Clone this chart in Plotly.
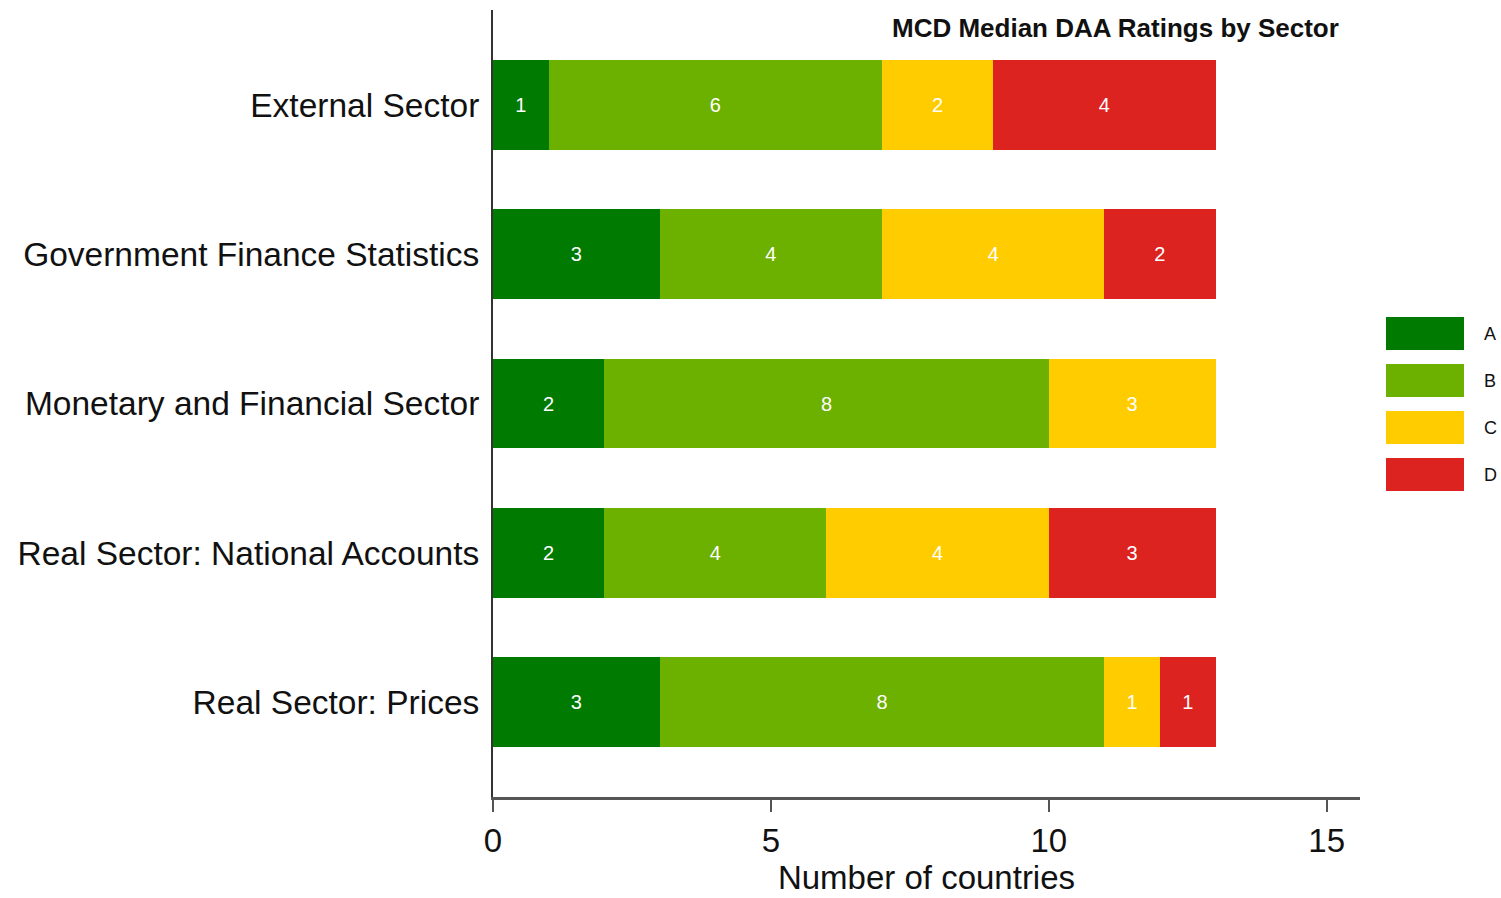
import plotly.graph_objects as go

sectors = ["External Sector", "Government Finance Statistics", "Monetary and Financial Sector",
           "Real Sector: National Accounts", "Real Sector: Prices"]
ratings = ["A", "B", "C", "D"]
values = {
    "A": [1, 3, 2, 2, 3],
    "B": [6, 4, 8, 4, 8],
    "C": [2, 4, 3, 4, 1],
    "D": [4, 2, 0, 3, 1],
}
colors = {"A": "#007A00", "B": "#6CB000", "C": "#FFCC00", "D": "#DD231F"}
x_ticks = [0, 5, 10, 15]

W, H = 1501, 898
L, R, T, B = 493, 141, 10, 101
pw, ph = W - L - R, H - T - B

def px2x(px):
    return (px - L) / pw

def py2y(py):
    return (H - B - py) / ph

fig = go.Figure()
for r in ratings:
    vals = values[r]
    fig.add_trace(go.Bar(
        y=sectors, x=vals, orientation="h", name=r,
        marker=dict(color=colors[r], line=dict(width=0)),
        text=[str(v) if v else "" for v in vals],
        textposition="inside", insidetextanchor="middle",
        textfont=dict(color="white", size=20, family="Liberation Sans"),
        width=0.6, showlegend=False,
    ))

fig.update_layout(
    barmode="stack",
    width=W, height=H,
    margin=dict(l=L, r=R, t=T, b=B, autoexpand=False),
    plot_bgcolor="white", paper_bgcolor="white",
    font=dict(family="Liberation Sans", color="#111111"),
    xaxis=dict(range=[0, 15.6], tickvals=x_ticks, showgrid=False, zeroline=False,
               showline=True, linecolor="#555555", linewidth=3,
               ticks="outside", ticklen=12, tickwidth=2, tickcolor="#555555",
               tickfont=dict(size=33, color="#111111"),
               title=dict(text="Number of countries", font=dict(size=33, color="#111111"), standoff=2)),
    yaxis=dict(type="category", categoryorder="array", categoryarray=sectors,
               range=[4.636, -0.636], showgrid=False, zeroline=False,
               showline=True, linecolor="#333333", linewidth=2, ticks="",
               ticklabelstandoff=5,
               tickfont=dict(size=33.5, color="#111111")),
    uniformtext=dict(mode=False),
)

fig.add_annotation(text="<b>MCD Median DAA Ratings by Sector</b>", xref="paper", yref="paper",
                   x=px2x(1341), y=py2y(28), xanchor="right", yanchor="middle",
                   showarrow=False, font=dict(size=26, color="#111111", family="Liberation Sans"))

# legend
sw_top = [317, 364, 411, 458]
for r, top in zip(ratings, sw_top):
    fig.add_shape(type="rect", xref="paper", yref="paper",
                  x0=px2x(1386), x1=px2x(1464), y0=py2y(top + 33), y1=py2y(top),
                  fillcolor=colors[r], line=dict(width=0))
    fig.add_annotation(text=r, xref="paper", yref="paper", x=px2x(1482), y=py2y(top + 17),
                       xanchor="left", yanchor="middle", showarrow=False,
                       font=dict(size=18, color="#111111", family="Liberation Sans"))

fig.write_html("out.html", config={"displayModeBar": False},
               post_script="document.body.style.margin='0';")
